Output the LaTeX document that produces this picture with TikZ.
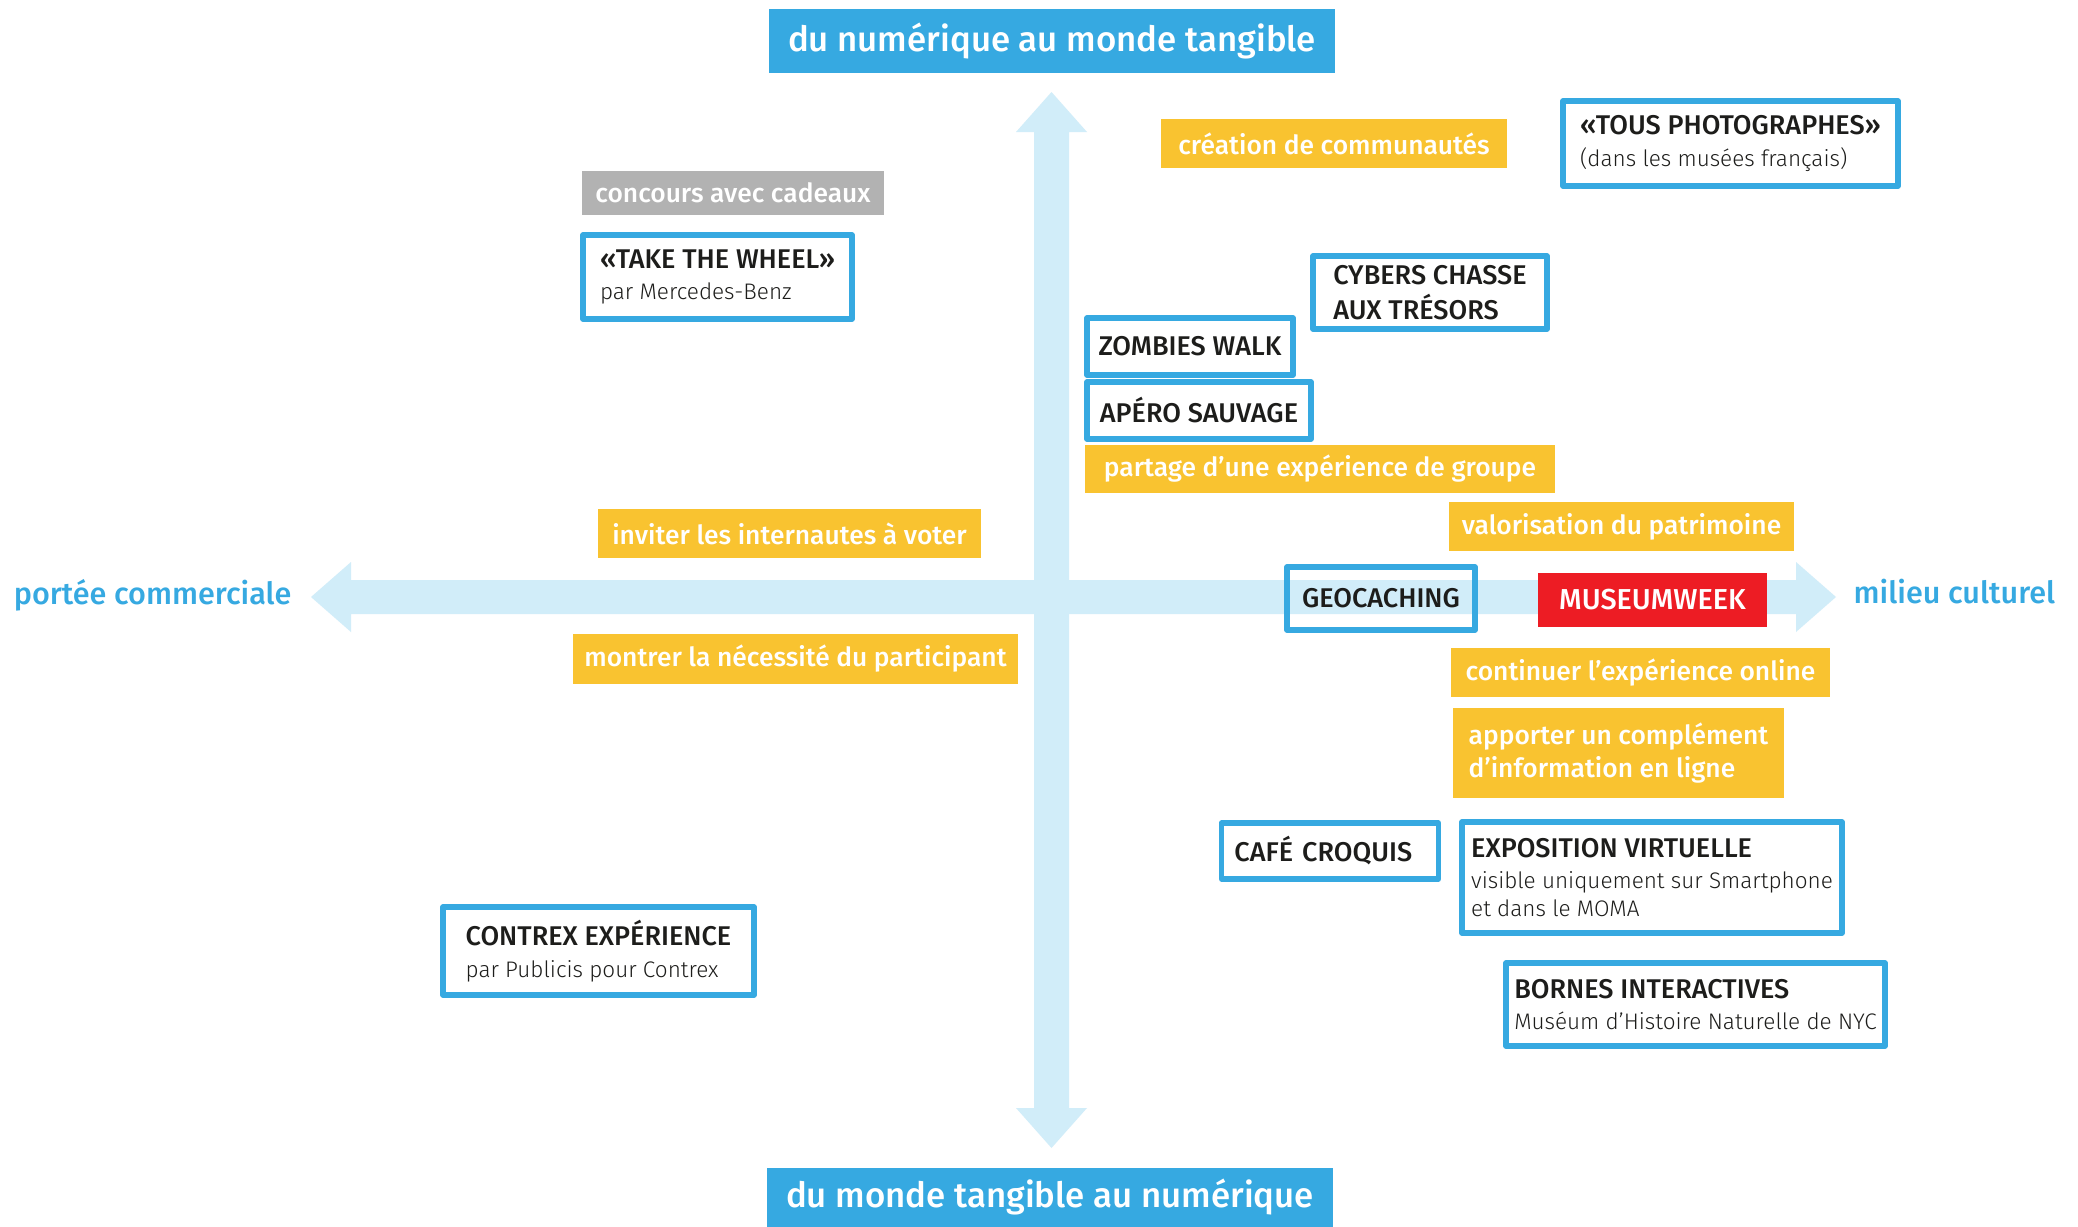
\documentclass[tikz,border=0pt]{standalone}
\usepackage{fontspec}
\setmainfont{Fira Sans}
\newfontfamily\medfont{Fira Sans Medium}
\newfontfamily\lightfont{Fira Sans Light}
\definecolor{bleu}{RGB}{54,169,225}
\definecolor{ciel}{RGB}{209,237,249}
\definecolor{jaune}{RGB}{249,195,48}
\definecolor{gris}{RGB}{178,178,178}
\definecolor{rouge}{RGB}{237,28,36}
\definecolor{encre}{RGB}{29,29,27}
\begin{document}
\begin{tikzpicture}[x=0.01cm, y=-0.01cm, line join=round,
	titre/.style={fill=bleu, text=white, inner sep=0pt, font=\medfont\fontsize{9.9}{12}\selectfont},
	axe/.style={text=bleu, inner sep=0pt, font=\medfont\fontsize{8.7}{11}\selectfont},
	ybox/.style={fill=jaune, text=white, inner sep=0pt, align=left, font=\medfont\fontsize{7.5}{9.6}\selectfont},
	gbox/.style={ybox, fill=gris},
	rbox/.style={ybox, fill=rouge, font=\medfont\fontsize{8.2}{9.6}\selectfont},
	bbox/.style={draw=bleu, line width=1.5pt, fill=white, text=encre, inner sep=0pt, align=left, font=\medfont\fontsize{7.7}{9}\selectfont}]
				\def\sous{\lightfont\fontsize{6.4}{8}\selectfont}
				\fill[white] (0,0) rectangle (2078,1227);
				\useasboundingbox (0,0) rectangle (2078,1227);
				\path
				(1051.5,92) coordinate (N)
				(1051.5,1148) coordinate (S)
				(311,597) coordinate (W)
				(1836,597) coordinate (E)
				;
				\fill[ciel]
				(N) -- (1087,132) -- (1069,132) -- (1069,1108) -- (1087,1108) -- (S)
				-- (1016,1108) -- (1034,1108) -- (1034,132) -- (1016,132) -- cycle
				;
				\fill[ciel]
				(W) -- (351,562) -- (351,580) -- (1796,580) -- (1796,562) -- (E)
				-- (1796,632) -- (1796,614) -- (351,614) -- (351,632) -- cycle
				;
				\node[titre, minimum width=5.66cm, minimum height=0.64cm] (haut) at (1052,41) {du numérique au monde tangible};
				\node[titre, minimum width=5.66cm, minimum height=0.59cm] (bas) at (1050,1197.5) {du monde tangible au numérique};
				\node[axe, anchor=east] (gauche) at (292,595) {portée commerciale};
				\node[axe, anchor=west] (droite) at (1853,592) {milieu culturel};
				\node[ybox, minimum width=3.46cm, minimum height=0.49cm] (creation) at (1334,143.5) {création de communautés};
				\node[ybox, minimum width=4.70cm, minimum height=0.48cm] (partage) at (1320,469) {partage d’une expérience de groupe};
				\node[ybox, minimum width=3.45cm, minimum height=0.49cm] (valorisation) at (1621.5,526.5) {valorisation du patrimoine};
				\node[ybox, minimum width=3.83cm, minimum height=0.49cm] (inviter) at (789.5,533.5) {inviter les internautes à voter};
				\node[ybox, minimum width=4.45cm, minimum height=0.50cm] (montrer) at (795.5,659) {montrer la nécessité du participant};
				\node[ybox, minimum width=3.79cm, minimum height=0.49cm] (continuer) at (1640.5,672.5) {continuer l’expérience online};
				\node[ybox, minimum width=3.31cm, minimum height=0.90cm] (apporter) at (1618.5,753) {apporter un complément\\d’information en ligne};
				\node[gbox, minimum width=3.02cm, minimum height=0.44cm] (concours) at (733,193) {concours avec cadeaux};
				\node[rbox, minimum width=2.29cm, minimum height=0.54cm] (museumweek) at (1652.5,600) {MUSEUMWEEK};
				\node[bbox, minimum width=3.35cm, minimum height=0.85cm] (photographes) at (1730.5,143.5) {«TOUS PHOTOGRAPHES»\\{\sous (dans les musées français)}};
				\node[bbox, minimum width=2.69cm, minimum height=0.84cm] (wheel) at (717.5,277) {«TAKE THE WHEEL»\\{\sous par Mercedes-Benz}};
				\node[bbox, minimum width=2.34cm, minimum height=0.73cm] (cybers) at (1430,292.5) {CYBERS CHASSE\\[0.8pt]AUX TRÉSORS};
				\node[bbox, minimum width=2.06cm, minimum height=0.57cm] (zombies) at (1190,346.5) {ZOMBIES WALK};
				\node[bbox, minimum width=2.24cm, minimum height=0.57cm] (apero) at (1199,410.5) {APÉRO SAUVAGE};
				\node[bbox, fill=none, minimum width=1.88cm, minimum height=0.63cm] (geocaching) at (1381,598.5) {GEOCACHING};
				\node[bbox, inner xsep=0.13cm, text width=1.91cm, minimum height=0.56cm] (cafe) at (1330,851) {CAFÉ CROQUIS};
				\node[bbox, minimum width=3.80cm, minimum height=1.11cm] (exposition) at (1652,877.5) {EXPOSITION VIRTUELLE\\{\sous visible uniquement sur Smartphone}\\[-1pt]{\sous et dans le MOMA}};
				\node[bbox, minimum width=3.79cm, minimum height=0.83cm] (bornes) at (1695.5,1004.5) {BORNES INTERACTIVES\\{\sous Muséum d’Histoire Naturelle de NYC}};
				\node[bbox, minimum width=3.11cm, minimum height=0.88cm] (contrex) at (598.5,951) {CONTREX EXPÉRIENCE\\{\sous par Publicis pour Contrex}};
			\end{tikzpicture}
\end{document}
